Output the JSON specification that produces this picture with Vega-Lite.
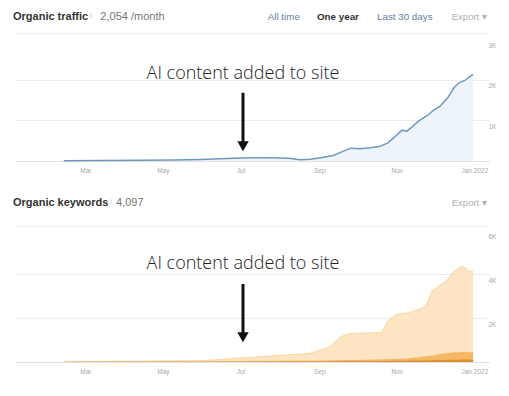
{
  "$schema": "https://vega.github.io/schema/vega-lite/v6.json",
  "padding": {"left": 12, "top": 11, "right": 4, "bottom": 4},
  "background": "white",
  "config": {"view": {"stroke": null}, "font": "Liberation Sans"},
  "datasets": {
    "traffic": [
      {"date": "2021-02-12", "traffic": 8},
      {"date": "2021-03-15", "traffic": 12},
      {"date": "2021-04-15", "traffic": 18},
      {"date": "2021-05-10", "traffic": 25},
      {"date": "2021-05-31", "traffic": 38},
      {"date": "2021-06-15", "traffic": 55},
      {"date": "2021-06-26", "traffic": 70},
      {"date": "2021-07-10", "traffic": 78},
      {"date": "2021-07-25", "traffic": 80},
      {"date": "2021-08-08", "traffic": 70},
      {"date": "2021-08-17", "traffic": 32},
      {"date": "2021-08-25", "traffic": 45},
      {"date": "2021-09-02", "traffic": 78},
      {"date": "2021-09-12", "traffic": 135},
      {"date": "2021-09-20", "traffic": 242},
      {"date": "2021-09-26", "traffic": 316},
      {"date": "2021-10-03", "traffic": 299},
      {"date": "2021-10-11", "traffic": 324},
      {"date": "2021-10-19", "traffic": 365},
      {"date": "2021-10-25", "traffic": 447},
      {"date": "2021-10-31", "traffic": 611},
      {"date": "2021-11-05", "traffic": 759},
      {"date": "2021-11-09", "traffic": 734},
      {"date": "2021-11-13", "traffic": 841},
      {"date": "2021-11-18", "traffic": 980},
      {"date": "2021-11-25", "traffic": 1120},
      {"date": "2021-11-30", "traffic": 1251},
      {"date": "2021-12-05", "traffic": 1349},
      {"date": "2021-12-11", "traffic": 1555},
      {"date": "2021-12-16", "traffic": 1801},
      {"date": "2021-12-20", "traffic": 1924},
      {"date": "2021-12-25", "traffic": 1989},
      {"date": "2021-12-27", "traffic": 2047},
      {"date": "2021-12-31", "traffic": 2129}
    ],
    "keywords": [
      {"date": "2021-02-12", "all": 15, "top10": 8, "top3": 5},
      {"date": "2021-03-15", "all": 25, "top10": 10, "top3": 6},
      {"date": "2021-04-15", "all": 40, "top10": 13, "top3": 7},
      {"date": "2021-05-10", "all": 50, "top10": 18, "top3": 9},
      {"date": "2021-05-31", "all": 60, "top10": 25, "top3": 11},
      {"date": "2021-06-15", "all": 110, "top10": 30, "top3": 13},
      {"date": "2021-06-26", "all": 167, "top10": 34, "top3": 14},
      {"date": "2021-07-10", "all": 215, "top10": 40, "top3": 16},
      {"date": "2021-07-22", "all": 258, "top10": 45, "top3": 18},
      {"date": "2021-08-04", "all": 318, "top10": 52, "top3": 20},
      {"date": "2021-08-17", "all": 348, "top10": 60, "top3": 22},
      {"date": "2021-08-25", "all": 394, "top10": 66, "top3": 24},
      {"date": "2021-09-02", "all": 545, "top10": 72, "top3": 26},
      {"date": "2021-09-10", "all": 712, "top10": 78, "top3": 28},
      {"date": "2021-09-15", "all": 1015, "top10": 82, "top3": 30},
      {"date": "2021-09-20", "all": 1212, "top10": 86, "top3": 31},
      {"date": "2021-09-25", "all": 1303, "top10": 90, "top3": 33},
      {"date": "2021-10-08", "all": 1318, "top10": 105, "top3": 38},
      {"date": "2021-10-19", "all": 1348, "top10": 120, "top3": 43},
      {"date": "2021-10-21", "all": 1439, "top10": 123, "top3": 45},
      {"date": "2021-10-25", "all": 1879, "top10": 130, "top3": 47},
      {"date": "2021-11-01", "all": 2182, "top10": 145, "top3": 52},
      {"date": "2021-11-08", "all": 2212, "top10": 165, "top3": 57},
      {"date": "2021-11-14", "all": 2318, "top10": 190, "top3": 63},
      {"date": "2021-11-19", "all": 2409, "top10": 220, "top3": 68},
      {"date": "2021-11-24", "all": 2591, "top10": 260, "top3": 74},
      {"date": "2021-11-29", "all": 3242, "top10": 300, "top3": 82},
      {"date": "2021-12-04", "all": 3470, "top10": 350, "top3": 90},
      {"date": "2021-12-10", "all": 3697, "top10": 400, "top3": 98},
      {"date": "2021-12-15", "all": 4076, "top10": 430, "top3": 104},
      {"date": "2021-12-20", "all": 4303, "top10": 450, "top3": 108},
      {"date": "2021-12-23", "all": 4350, "top10": 455, "top3": 110},
      {"date": "2021-12-26", "all": 4240, "top10": 455, "top3": 110},
      {"date": "2021-12-28", "all": 4120, "top10": 450, "top3": 110},
      {"date": "2021-12-31", "all": 4150, "top10": 445, "top3": 108}
    ]
  },
  "bounds": "flush",
  "spacing": 65,
  "vconcat": [
    {
      "width": 474,
      "height": 128,
      "layer": [
        {
          "data": {"name": "traffic"},
          "mark": {"type": "area", "color": "#edf4fb", "opacity": 1, "line": {"color": "#7098bd", "strokeWidth": 1.5}},
          "encoding": {
            "x": {
              "field": "date", "type": "temporal",
              "scale": {"domain": [{"year": 2021, "month": 1, "date": 4, "hours": 16, "utc": true}, {"year": 2022, "month": 1, "date": 12, "hours": 12, "utc": true}]},
              "axis": {
                "title": null, "grid": false, "ticks": false, "domainColor": "#e2e2e2",
                "values": [
                  {"year": 2021, "month": 3, "date": 1, "utc": true},
                  {"year": 2021, "month": 5, "date": 1, "utc": true},
                  {"year": 2021, "month": 7, "date": 1, "utc": true},
                  {"year": 2021, "month": 9, "date": 1, "utc": true},
                  {"year": 2021, "month": 11, "date": 1, "utc": true},
                  {"year": 2022, "month": 1, "date": 1, "utc": true}
                ],
                "labelExpr": "utcmonth(datum.value) == 0 ? 'Jan 2022' : utcFormat(datum.value, '%b')",
                "labelFontSize": 6.5, "labelColor": "#a8a8a8", "labelPadding": 6, "labelFlush": false, "labelOverlap": false
              }
            },
            "y": {
              "field": "traffic", "type": "quantitative",
              "scale": {"domain": [0, 3150], "nice": false},
              "axis": {
                "orient": "right", "title": null, "domain": false, "ticks": false,
                "values": [1000, 2000, 3000, 3150],
                "grid": true,
                "gridColor": {"condition": {"test": "datum.value == 3000", "value": "transparent"}, "value": "#ececec"},
                "labelExpr": "datum.value == 3150 ? '' : format(datum.value / 1000, 'd') + 'K'",
                "labelAlign": "left", "labelPadding": -1, "labelBaseline": "middle", "labelOffset": 6,
                "labelFontSize": 6.5, "labelColor": "#a8a8a8"
              }
            }
          }
        },
        {
          "data": {"values": [{}]},
          "mark": {"type": "text", "align": "left", "baseline": "alphabetic", "fontSize": 11, "fontWeight": "bold", "color": "#333333"},
          "encoding": {"x": {"datum": {"year": 2021, "month": 1, "date": 3, "hours": 2, "utc": true}, "type": "temporal"}, "y": {"datum": 3465}, "text": {"value": "Organic traffic"}}
        },
        {
          "data": {"values": [{}]},
          "mark": {"type": "text", "align": "center", "baseline": "alphabetic", "fontSize": 7, "color": "#c0c0c0"},
          "encoding": {"x": {"datum": {"year": 2021, "month": 3, "date": 5, "hours": 12, "utc": true}, "type": "temporal"}, "y": {"datum": 3524}, "text": {"value": "i"}}
        },
        {
          "data": {"values": [{}]},
          "mark": {"type": "text", "align": "left", "baseline": "alphabetic", "fontSize": 11, "color": "#777777"},
          "encoding": {"x": {"datum": {"year": 2021, "month": 3, "date": 12, "hours": 19, "utc": true}, "type": "temporal"}, "y": {"datum": 3465}, "text": {"value": "2,054 /month"}}
        },
        {
          "data": {"values": [{}]},
          "mark": {"type": "text", "align": "left", "baseline": "alphabetic", "fontSize": 9.8, "color": "#5f7ea3"},
          "encoding": {"x": {"datum": {"year": 2021, "month": 7, "date": 22, "hours": 11, "utc": true}, "type": "temporal"}, "y": {"datum": 3465}, "text": {"value": "All time"}}
        },
        {
          "data": {"values": [{}]},
          "mark": {"type": "text", "align": "left", "baseline": "alphabetic", "fontSize": 9.8, "fontWeight": "bold", "color": "#333333"},
          "encoding": {"x": {"datum": {"year": 2021, "month": 8, "date": 30, "hours": 5, "utc": true}, "type": "temporal"}, "y": {"datum": 3465}, "text": {"value": "One year"}}
        },
        {
          "data": {"values": [{}]},
          "mark": {"type": "text", "align": "left", "baseline": "alphabetic", "fontSize": 9.8, "color": "#5f7ea3"},
          "encoding": {"x": {"datum": {"year": 2021, "month": 10, "date": 16, "hours": 10, "utc": true}, "type": "temporal"}, "y": {"datum": 3465}, "text": {"value": "Last 30 days"}}
        },
        {
          "data": {"values": [{}]},
          "mark": {"type": "text", "align": "left", "baseline": "alphabetic", "fontSize": 9.5, "color": "#b0b0b0"},
          "encoding": {"x": {"datum": {"year": 2021, "month": 12, "date": 14, "hours": 5, "utc": true}, "type": "temporal"}, "y": {"datum": 3465}, "text": {"value": "Export ▾"}}
        },
        {
          "data": {"values": [{}]},
          "mark": {"type": "text", "align": "center", "baseline": "alphabetic", "font": "Open Sans", "fontWeight": 300, "fontSize": 18, "color": "#222222"},
          "encoding": {"x": {"datum": {"year": 2021, "month": 7, "date": 3, "utc": true}, "type": "temporal"}, "y": {"datum": 2023}, "text": {"value": "AI content added to site"}}
        },
        {
          "data": {"values": [{}]},
          "mark": {"type": "rule", "strokeWidth": 3, "color": "#111111"},
          "encoding": {"x": {"datum": {"year": 2021, "month": 7, "date": 3, "utc": true}, "type": "temporal"}, "y": {"datum": 1679}, "y2": {"datum": 431}}
        },
        {
          "data": {"values": [{}]},
          "mark": {"type": "point", "shape": "triangle-down", "filled": true, "size": 130, "color": "#111111", "opacity": 1},
          "encoding": {"x": {"datum": {"year": 2021, "month": 7, "date": 3, "utc": true}, "type": "temporal"}, "y": {"datum": 364}}
        }
      ]
    },
    {
      "width": 474,
      "height": 136,
      "layer": [
        {
          "data": {"name": "keywords"},
          "mark": {"type": "area", "color": "#fde4c3", "opacity": 1, "line": {"color": "#f8d6a6", "strokeWidth": 1}},
          "encoding": {
            "x": {
              "field": "date", "type": "temporal",
              "scale": {"domain": [{"year": 2021, "month": 1, "date": 4, "hours": 16, "utc": true}, {"year": 2022, "month": 1, "date": 12, "hours": 12, "utc": true}]},
              "axis": {
                "title": null, "grid": false, "ticks": false, "domainColor": "#e2e2e2",
                "values": [
                  {"year": 2021, "month": 3, "date": 1, "utc": true},
                  {"year": 2021, "month": 5, "date": 1, "utc": true},
                  {"year": 2021, "month": 7, "date": 1, "utc": true},
                  {"year": 2021, "month": 9, "date": 1, "utc": true},
                  {"year": 2021, "month": 11, "date": 1, "utc": true},
                  {"year": 2022, "month": 1, "date": 1, "utc": true}
                ],
                "labelExpr": "utcmonth(datum.value) == 0 ? 'Jan 2022' : utcFormat(datum.value, '%b')",
                "labelFontSize": 6.5, "labelColor": "#a8a8a8", "labelPadding": 6, "labelFlush": false, "labelOverlap": false
              }
            },
            "y": {
              "field": "all", "type": "quantitative",
              "scale": {"domain": [0, 6200], "nice": false},
              "axis": {
                "orient": "right", "title": null, "domain": false, "ticks": false,
                "values": [2000, 4000, 6000, 6200],
                "grid": true,
                "gridColor": {"condition": {"test": "datum.value == 6000", "value": "transparent"}, "value": "#ececec"},
                "labelExpr": "datum.value == 6200 ? '' : format(datum.value / 1000, 'd') + 'K'",
                "labelAlign": "left", "labelPadding": -1, "labelBaseline": "middle", "labelOffset": 6,
                "labelFontSize": 6.5, "labelColor": "#a8a8a8"
              }
            }
          }
        },
        {
          "data": {"name": "keywords"},
          "mark": {"type": "area", "color": "#f6b865", "opacity": 1},
          "encoding": {"x": {"field": "date", "type": "temporal"}, "y": {"field": "top10", "type": "quantitative"}}
        },
        {
          "data": {"name": "keywords"},
          "mark": {"type": "area", "color": "#dc8d2e", "opacity": 1},
          "encoding": {"x": {"field": "date", "type": "temporal"}, "y": {"field": "top3", "type": "quantitative"}}
        },
        {
          "data": {"values": [{}]},
          "mark": {"type": "text", "align": "left", "baseline": "alphabetic", "fontSize": 11, "fontWeight": "bold", "color": "#333333"},
          "encoding": {"x": {"datum": {"year": 2021, "month": 1, "date": 3, "hours": 2, "utc": true}, "type": "temporal"}, "y": {"datum": 7124}, "text": {"value": "Organic keywords"}}
        },
        {
          "data": {"values": [{}]},
          "mark": {"type": "text", "align": "center", "baseline": "alphabetic", "fontSize": 7, "color": "#c0c0c0"},
          "encoding": {"x": {"datum": {"year": 2021, "month": 3, "date": 21, "hours": 5, "utc": true}, "type": "temporal"}, "y": {"datum": 7201}, "text": {"value": "i"}}
        },
        {
          "data": {"values": [{}]},
          "mark": {"type": "text", "align": "left", "baseline": "alphabetic", "fontSize": 11, "color": "#777777"},
          "encoding": {"x": {"datum": {"year": 2021, "month": 3, "date": 25, "hours": 2, "utc": true}, "type": "temporal"}, "y": {"datum": 7124}, "text": {"value": "4,097"}}
        },
        {
          "data": {"values": [{}]},
          "mark": {"type": "text", "align": "left", "baseline": "alphabetic", "fontSize": 9.5, "color": "#b0b0b0"},
          "encoding": {"x": {"datum": {"year": 2021, "month": 12, "date": 14, "hours": 5, "utc": true}, "type": "temporal"}, "y": {"datum": 7124}, "text": {"value": "Export ▾"}}
        },
        {
          "data": {"values": [{}]},
          "mark": {"type": "text", "align": "center", "baseline": "alphabetic", "font": "Open Sans", "fontWeight": 300, "fontSize": 18, "color": "#222222"},
          "encoding": {"x": {"datum": {"year": 2021, "month": 7, "date": 3, "utc": true}, "type": "temporal"}, "y": {"datum": 4239}, "text": {"value": "AI content added to site"}}
        },
        {
          "data": {"values": [{}]},
          "mark": {"type": "rule", "strokeWidth": 3, "color": "#111111"},
          "encoding": {"x": {"datum": {"year": 2021, "month": 7, "date": 3, "utc": true}, "type": "temporal"}, "y": {"datum": 3555}, "y2": {"datum": 1231}}
        },
        {
          "data": {"values": [{}]},
          "mark": {"type": "point", "shape": "triangle-down", "filled": true, "size": 130, "color": "#111111", "opacity": 1},
          "encoding": {"x": {"datum": {"year": 2021, "month": 7, "date": 3, "utc": true}, "type": "temporal"}, "y": {"datum": 1126}}
        }
      ]
    }
  ]
}
